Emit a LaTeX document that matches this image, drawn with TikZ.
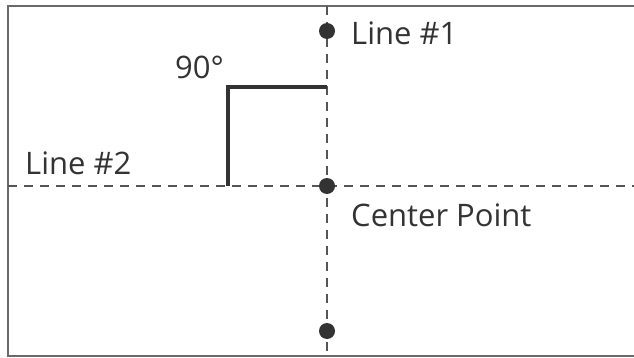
\documentclass[tikz,border=0pt]{standalone}
\usepackage{fontspec}
\setmainfont{Open Sans}
\usetikzlibrary{positioning}
\definecolor{ink}{HTML}{333333}
\definecolor{framegray}{HTML}{6A6A6A}
\definecolor{dashgray}{HTML}{555555}

\begin{document}
\begin{tikzpicture}[x=1pt,y=-1pt,
	frame/.style={framegray,line width=2pt},
	axis/.style={dashgray,line width=1.4pt,dash pattern=on 9pt off 7pt},
	dot/.style={circle,fill=ink,inner sep=0pt,minimum size=16pt},
	rightangle/.style={ink,line width=4pt},
	lbl/.style={ink,inner sep=0pt,anchor=base west,font=\fontsize{31}{37}\selectfont}]
	\useasboundingbox (0,0) rectangle (634,358);
	\fill[white] (0,0) rectangle (634,358);
	\draw[frame] (634,6) -| (8,356) -- (634,356);
	% the two lines
	\coordinate (top) at (327,6);
	\coordinate (bottom) at (327,356);
	\coordinate (west) at (8,186);
	\coordinate (east) at (634,186);
	\draw[axis] (top) -- (bottom);
	\draw[axis] (west) -- (east);
	% right angle mark
	\coordinate (foot) at (228,186);
	\coordinate (corner) at (228,87);
	\coordinate (tip) at (327,87);
	\draw[rightangle] (foot) -- (corner) -- (tip);
	% points
	\node[dot] (p1) at (327,31) {};
	\node[dot] (center) at (327,186) {};
	\node[dot] (p2) at (327,331) {};
	% labels
	\node[lbl] (line1) at (351,45) {Line \#1};
	\node[lbl] (line2) at (25,175) {Line \#2};
	\node[lbl] (angle) at (175,79) {90°};
	\node[lbl] (cplabel) at (351,226) {Center Point};
\end{tikzpicture}
\end{document}
